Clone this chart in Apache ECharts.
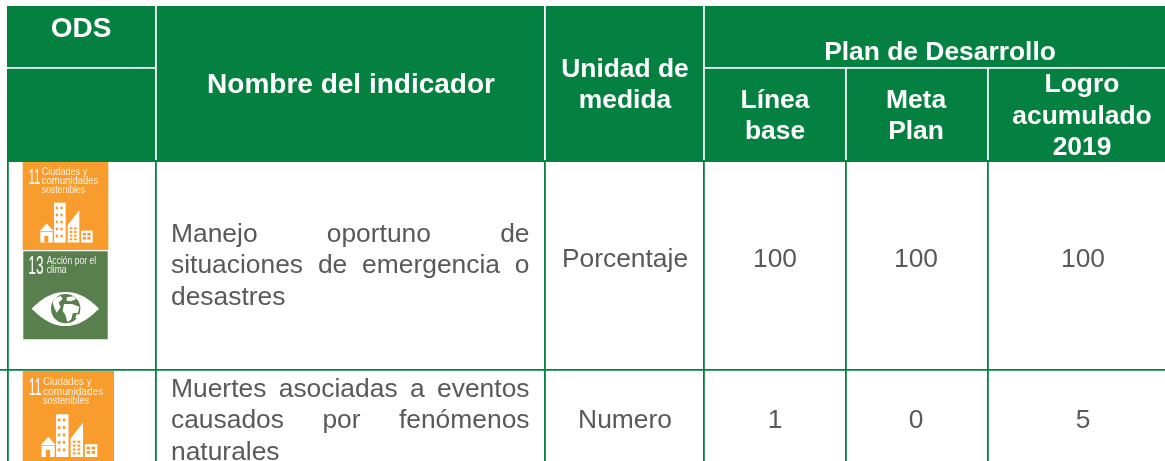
<!DOCTYPE html>
<html><head><meta charset="utf-8">
<style>html,body{margin:0;padding:0;background:#fff}#c{width:1165px;height:461px}</style>
<script src="https://cdn.jsdelivr.net/npm/echarts@6/dist/echarts.min.js"></script>
</head><body><div id="c"></div>
<script>
// ---- table content ----
const odsHeader = "ODS";
const nameHeader = "Nombre del indicador";
const unitHeader = ["Unidad de", "medida"];
const planHeader = "Plan de Desarrollo";
const baseHeader = ["Línea", "base"];
const goalHeader = ["Meta", "Plan"];
const achievedHeader = ["Logro", "acumulado", "2019"];
const indicatorNames = [
  ["Manejo oportuno de", "situaciones de emergencia o", "desastres"],
  ["Muertes asociadas a eventos", "causados por fenómenos", "naturales"]
];
const units = ["Porcentaje", "Numero"];
const baseValues = ["100", "1"];
const goalValues = ["100", "0"];
const achievedValues = ["100", "5"];
const goal11Title = ["Ciudades y", "comunidades", "sostenibles"];
const goal13Title = ["Acción por el", "clima"];

// ---- layout and style ----
const GREEN = "#048140", GREY = "#595959", ORANGE = "#F79C2D", OLIVE = "#5A7F4F";
const FAMILY = "Liberation Sans";
const FS = 26.4;
const g = [];
const ctx = document.createElement("canvas").getContext("2d");
function measure(t, size, weight) { ctx.font = (weight || "normal") + " " + size + 'px "Liberation Sans"'; return ctx.measureText(t).width; }
function rect(x, y, w, h, fill) { g.push({ type: "rect", silent: true, shape: { x, y, width: w, height: h }, style: { fill } }); }
function text(t, x, y, o) {
  o = o || {};
  g.push({ type: "text", silent: true, x, y: y + (o.dy === undefined ? 2 : o.dy), scaleX: o.sx || 1, scaleY: o.sy || 1, style: {
    text: t, fill: o.fill || GREY, fontFamily: FAMILY, fontSize: o.size || FS, fontWeight: o.weight || "normal",
    textAlign: o.align || "center", textVerticalAlign: "middle" } });
}
function head(lines, x, ys, size) { lines.forEach((t, i) => text(t, x, ys[i], { fill: "#fff", weight: "bold", size: size || FS })); }
function justified(line, y, left, right, last) {
  if (last) { text(line, left, y, { align: "left" }); return; }
  const words = line.split(" ");
  const total = words.reduce((s, w) => s + measure(w, FS), 0);
  const gap = (right - left - total) / (words.length - 1);
  let x = left;
  words.forEach(w => { text(w, x, y, { align: "left" }); x += measure(w, FS) + gap; });
}
function poly(points, fill) { g.push({ type: "polygon", silent: true, shape: { points }, style: { fill } }); }
function bez(p0, p1, p2, p3, out) {
  for (let i = 0; i <= 24; i++) {
    const t = i / 24, u = 1 - t;
    out.push([0, 1].map(j => u*u*u*p0[j] + 3*u*u*t*p1[j] + 3*u*t*t*p2[j] + t*t*t*p3[j]));
  }
}

function icon11(ox, oy, w, h) {
  rect(ox, oy, w, h, ORANGE);
  const k = w / 257, X = v => ox + v * k, Y = v => oy + v * k;
  const R = (a, b, c, d, f) => rect(X(a), Y(b), c * k, d * k, f || "#fff");
  text("11", X(35), Y(45), { size: 23 * k * 3, fill: "#fff", sx: 0.5, dy: 1 });
  goal11Title.forEach((t, i) => text(t, X(57), Y(31 + i * 27), { size: 10.6 * k * 3, fill: "#fdf0dc", align: "left", sx: [0.86, 0.9, 0.82][i], dy: 0 }));
  // house
  poly([[X(51), Y(208)], [X(72), Y(185)], [X(93), Y(208)]], "#fff");
  R(53, 210, 37, 32);
  R(65, 222, 12, 20, ORANGE);
  // tower
  R(94, 122, 35, 120);
  for (let r = 0; r < 5; r++) for (let c = 0; c < 2; c++) R(99 + c * 14, 134 + r * 21, 7, 8, ORANGE);
  // slanted tower
  poly([[X(135), Y(190)], [X(170), Y(145)], [X(170), Y(242)], [X(135), Y(242)]], "#fff");
  for (let r = 0; r < 4; r++) for (let c = 0; c < 2; c++) R(141 + c * 13, 196 + r * 11, 8, 6, ORANGE);
  // low block
  R(175, 206, 35, 36);
  for (let r = 0; r < 2; r++) for (let c = 0; c < 2; c++) R(180 + c * 14, 213 + r * 12, 10, 8, ORANGE);
}
function icon13(ox, oy, w, h) {
  rect(ox, oy, w, h, OLIVE);
  const k = w / 253, X = v => ox + v * k, Y = v => oy + v * k;
  const P = (a, b) => [X(a), Y(b)];
  text("13", X(38), Y(44), { size: 25 * k * 3, fill: "#fff", sx: 0.55, dy: 1 });
  goal13Title.forEach((t, i) => text(t, X(70), Y(31 + i * 27), { size: 10.2 * k * 3, fill: "#eef2ea", align: "left", sx: [0.84, 0.84][i], dy: 0 }));
  // eye: two curves meeting at the corners
  const eye = [];
  bez(P(25, 172), P(55, 142), P(85, 122), P(126, 122), eye);
  bez(P(126, 122), P(167, 122), P(197, 142), P(227, 172), eye);
  bez(P(227, 172), P(197, 202), P(167, 224), P(126, 224), eye);
  bez(P(126, 224), P(85, 224), P(55, 202), P(25, 172), eye);
  poly(eye, "#fff");
  g.push({ type: "circle", silent: true, shape: { cx: X(127), cy: Y(172), r: 44 * k }, style: { fill: OLIVE } });
  // land masses
  const land = [
    [[96,140],[112,134],[118,142],[106,154],[112,168],[100,184],[92,168],[88,152]],
    [[130,138],[150,135],[158,144],[142,150],[130,148]],
    [[122,158],[146,158],[168,166],[164,184],[148,186],[144,204],[132,212],[126,190],[118,178]],
    [[160,188],[168,190],[164,202],[156,200]]
  ];
  land.forEach(p => poly(p.map(q => P(q[0], q[1])), "#fff"));
}

// header block
rect(7, 6, 1158, 156, GREEN);
// white separators in header
[155, 544, 703, 845, 987].forEach((x, i) => rect(x, i > 2 ? 68 : 6, 1.8, i > 2 ? 92 : 154, "#fff"));
rect(7, 67, 148, 1.8, "#fff");
rect(705, 67, 460, 1.8, "#fff");
// green rules in the body
[7, 155, 544, 703, 845, 987].forEach(x => rect(x, 162, 1.8, 299, GREEN));
rect(0, 369, 1165, 1.8, GREEN);

// icons
icon11(22.7, 162, 85.6, 88);
icon13(23.3, 251.3, 84.4, 88);
icon11(22.7, 371, 91.3, 94);

// header text
head([odsHeader], 81, [27], 28);
head([nameHeader], 351, [83], 28);
head(unitHeader, 625, [68, 99]);
head([planHeader], 940, [51]);
head(baseHeader, 775, [99, 130]);
head(goalHeader, 916, [99, 130]);
head(achievedHeader, 1082, [83, 115, 146]);

// body
const rowY = [258, 419];
const nameY = [[233, 264, 296], [388, 419, 451]];
indicatorNames.forEach((lines, r) => lines.forEach((l, i) => justified(l, nameY[r][i], 171, 529.5, i === lines.length - 1)));
units.forEach((t, r) => text(t, 625, rowY[r]));
baseValues.forEach((t, r) => text(t, 775, rowY[r]));
goalValues.forEach((t, r) => text(t, 916, rowY[r]));
achievedValues.forEach((t, r) => text(t, 1083, rowY[r]));

const chart = echarts.init(document.getElementById("c"), null, { renderer: "canvas" });
chart.setOption({ animation: false, backgroundColor: "#fff", graphic: { elements: g } });
</script></body></html>
